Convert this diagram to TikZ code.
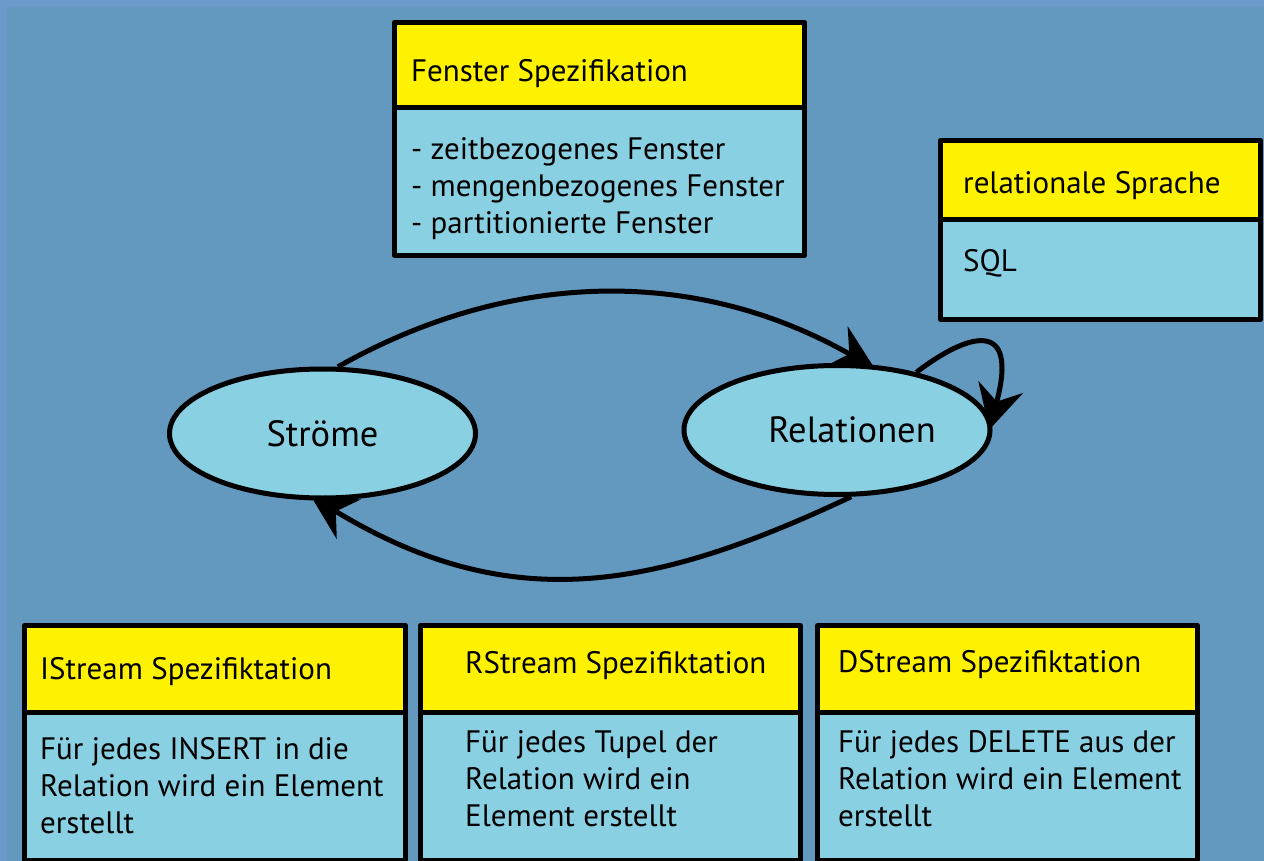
\documentclass[tikz,border=0pt]{standalone}
\usepackage{fontspec}
\setmainfont{PT Sans}
\usetikzlibrary{shapes.geometric,arrows.meta,positioning}

\definecolor{bandblue}{RGB}{106,153,202}
\definecolor{backblue}{RGB}{99,152,191}
\definecolor{lightblue}{RGB}{137,208,227}

\pgfdeclarelayer{bg}
\pgfdeclarelayer{edges}
\pgfsetlayers{bg,edges,main}

\tikzset{
  boxline/.style={draw=black,line width=5pt},
  headbox/.style={boxline,fill=yellow},
  bodybox/.style={boxline,fill=lightblue},
  boxtext/.style={anchor=base west,inner sep=0pt,align=left,font=\fontsize{31}{37}\selectfont},
  state/.style={ellipse,draw=black,line width=5pt,fill=lightblue,minimum width=306pt,minimum height=129pt,inner sep=0pt,font=\fontsize{36.5}{40}\selectfont},
  flow/.style={line width=5pt,-{Stealth[length=44pt,width=46pt,inset=15pt]},shorten >=-8pt}
}

\begin{document}
\begin{tikzpicture}[line cap=round,line join=round,x=1pt,y=-1pt]
    \useasboundingbox (0,0) rectangle (1264,861);
    \begin{pgfonlayer}{bg}
      \fill[bandblue] (0,0) rectangle (1264,861);
      \fill[backblue] (7,7) rectangle (1264,861);
    \end{pgfonlayer}

    \draw[headbox] (394.5,22.5) rectangle (804.5,108);
    \draw[bodybox] (394.5,108) rectangle (804.5,255.5);
    \node[boxtext] (fensterkopf) at (411,82) {Fenster Spezifikation};
    \node[boxtext] (fensterliste) at (411,234) {- zeitbezogenes Fenster\\- mengenbezogenes Fenster\\- partitionierte Fenster};

    \draw[headbox] (940.5,140.5) rectangle (1260.5,220);
    \draw[bodybox] (940.5,220) rectangle (1260.5,319.5);
    \node[boxtext] (sprachkopf) at (963,194) {relationale Sprache};
    \node[boxtext] (sql) at (963,272) {SQL};

    \foreach \x/\w in {24.5/381,420.5/380,817.5/380} {
      \draw[headbox] (\x,625.5) rectangle ++(\w,86.5);
      \draw[bodybox] (\x,712) rectangle ++(\w,148);
    }
    \node[boxtext] (ikopf) at (40,679) {IStream Spezifiktation};
    \node[boxtext] (itext) at (40,833) {Für jedes INSERT in die\\Relation wird ein Element\\erstellt};
    \node[boxtext] (rkopf) at (465,673) {RStream Spezifiktation};
    \node[boxtext] (rtext) at (465,826) {Für jedes Tupel der\\Relation wird ein\\Element erstellt};
    \node[boxtext] (dkopf) at (838,672) {DStream Spezifiktation};
    \node[boxtext] (dtext) at (838,826) {Für jedes DELETE aus der\\Relation wird ein Element\\erstellt};

    \node[state] (stroeme) at (322.5,433.5) {Ströme};
    \node[state] (relationen) at (837,430) {\kern30pt Relationen};

    \begin{pgfonlayer}{edges}
      \draw[flow] (stroeme.77) .. controls (509,270) and (695,266) .. (relationen.65);
      \draw[flow] (relationen.36) .. controls (965,335) and (1020,315) .. (relationen.3);
      \draw[flow] (relationen.282) .. controls (657,588) and (513,619) .. (stroeme.266);
    \end{pgfonlayer}
  \end{tikzpicture}
\end{document}
